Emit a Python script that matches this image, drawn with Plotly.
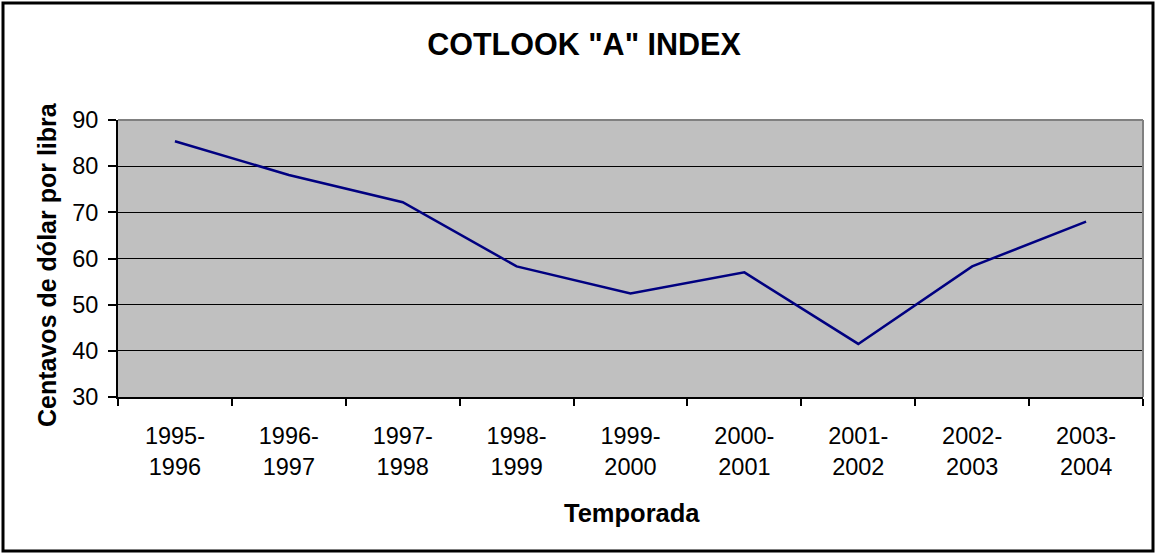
import plotly.graph_objects as go

seasons = ["1995-1996", "1996-1997", "1997-1998", "1998-1999", "1999-2000",
           "2000-2001", "2001-2002", "2002-2003", "2003-2004"]
index_values = [85.4, 78.1, 72.2, 58.3, 52.4, 57.0, 41.5, 58.3, 68.0]
y_ticks = [30, 40, 50, 60, 70, 80, 90]
tick_text = [s.replace("-", "-<br>") for s in seasons]

title_text = 'COTLOOK "A" INDEX'
y_title = "Centavos de dólar por libra"
x_title = "Temporada"

FONT = "Liberation Sans, Arial, sans-serif"
W, H = 1156, 554
L, R, T, B = 118, 13, 120, 157
pw, ph = W - L - R, H - T - B


def px_x(p):
    return (p - L) / pw


def px_y(p):
    return (H - B - p) / ph


fig = go.Figure()
fig.add_trace(go.Scatter(
    x=seasons, y=index_values, mode="lines",
    line=dict(color="#000080", width=2.5),
    hoverinfo="x+y", showlegend=False,
))

fig.update_layout(
    width=W, height=H,
    margin=dict(l=L, r=R, t=T, b=B),
    paper_bgcolor="white",
    plot_bgcolor="#C0C0C0",
    font=dict(family=FONT, color="black", size=23),
    showlegend=False,
    title=dict(text="<b>" + title_text + "</b>", x=584 / W,
               xanchor="center", y=1 - 44 / H, yanchor="middle", yref="container",
               font=dict(family=FONT, size=30.5, color="black")),
    xaxis=dict(
        type="category",
        tickmode="array", tickvals=seasons, ticktext=tick_text,
        tickson="boundaries", ticks="outside", ticklen=7, tickwidth=2, tickcolor="black",
        showline=True, linecolor="black", linewidth=2,
        showgrid=False, zeroline=False,
        tickfont=dict(family=FONT, size=23.5, color="black"),
        ticklabelstandoff=17,
        range=[-0.5, len(seasons) - 0.5],
    ),
    yaxis=dict(
        range=[30, 90], tickmode="array", tickvals=y_ticks,
        ticks="outside", ticklen=8, tickwidth=2, tickcolor="black",
        showline=True, linecolor="black", linewidth=2,
        showgrid=True, gridcolor="black", gridwidth=1,
        zeroline=False,
        tickfont=dict(family=FONT, size=23.5, color="black"),
        ticklabelstandoff=5,
    ),
)

# plot-area top and right border (grey)
fig.add_shape(type="line", xref="paper", yref="paper", x0=0, x1=1, y0=1, y1=1,
              line=dict(color="#808080", width=2), layer="above")
fig.add_shape(type="line", xref="paper", yref="paper", x0=1, x1=1, y0=0, y1=1,
              line=dict(color="#808080", width=2), layer="above")

# outer chart border
fig.add_shape(type="rect", xref="paper", yref="paper",
              x0=px_x(3), x1=px_x(W - 3), y0=px_y(H - 3), y1=px_y(3),
              line=dict(color="black", width=3), fillcolor="rgba(0,0,0,0)", layer="above")

fig.add_annotation(text="<b>" + y_title + "</b>", textangle=-90,
                   xref="paper", yref="paper", x=px_x(47), y=px_y(265),
                   xanchor="center", yanchor="middle", showarrow=False,
                   font=dict(family=FONT, size=25, color="black"))
fig.add_annotation(text="<b>" + x_title + "</b>",
                   xref="paper", yref="paper", x=px_x(631.5), y=px_y(513),
                   xanchor="center", yanchor="middle", showarrow=False,
                   font=dict(family=FONT, size=25.5, color="black"))

fig.write_html("out.html", config={"displayModeBar": False},
               post_script="document.body.style.margin='0';document.body.style.overflow='hidden';")
